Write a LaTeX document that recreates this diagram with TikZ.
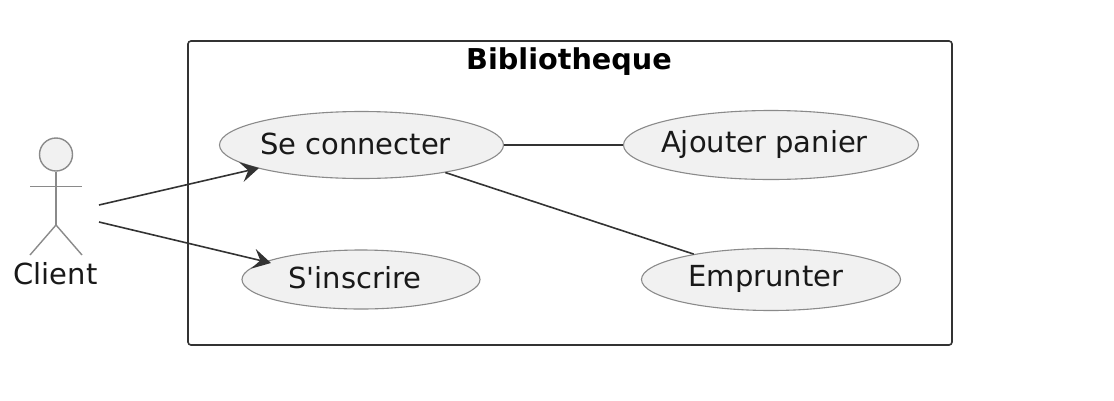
\documentclass[tikz,border=0pt]{standalone}
\usepackage{fontspec}
\setmainfont{DejaVu Sans}
\usetikzlibrary{shapes.geometric,arrows.meta}
\definecolor{ucfill}{HTML}{F1F1F1}
\definecolor{ucline}{HTML}{8A8A8A}
\definecolor{linkline}{HTML}{333333}
\tikzset{
	usecase/.style={ellipse, draw=ucline, fill=ucfill, line width=1.1pt, inner sep=0pt},
	uctext/.style={inner sep=0pt, text=black!90, font=\fontsize{29bp}{33bp}\selectfont},
	actorline/.style={draw=ucline, line width=1.4pt},
	link/.style={draw=linkline, line width=1.6pt},
	linkhead/.style={link, -{Stealth[length=18bp,width=20bp,inset=7bp]}},
}
\begin{document}
\begin{tikzpicture}[x=1bp,y=-1bp]
	\useasboundingbox (0,0) rectangle (1114,400);
	\fill[white] (0,0) rectangle (1114,400);
	% system box
	\node[draw=linkline, line width=1.6pt, rounded corners=3bp, minimum width=764bp, minimum height=304bp, inner sep=0pt] (bib) at (570,193) {};
	\node[font=\bfseries\fontsize{28.7bp}{33bp}\selectfont, text=black] (titre) at (569,62) {Bibliotheque};
	% use cases
	\node[usecase, minimum width=284bp, minimum height=67bp] (connect) at (361.5,145) {};
	\node[usecase, minimum width=238bp, minimum height=59bp] (inscrire) at (361,279.5) {};
	\node[usecase, minimum width=295bp, minimum height=69bp] (panier) at (771,145) {};
	\node[usecase, minimum width=259bp, minimum height=62bp] (emprunter) at (771,279.5) {};
	\node[uctext] (connecttxt) at (355.5,144) {Se connecter};
	\node[uctext] (inscriretxt) at (355,278) {S\textquotesingle inscrire};
	\node[uctext] (paniertxt) at (764.5,144) {Ajouter panier};
	\node[uctext] (emprtxt) at (766,279) {Emprunter};
	% actor
	\node[circle, draw=ucline, fill=ucfill, line width=1.4pt, minimum size=33bp, inner sep=0pt] (tete) at (56,154.5) {};
	\coordinate (bassin) at (56,225);
	\coordinate (brasg) at (30,186.5);
	\coordinate (brasd) at (82,186.5);
	\coordinate (piedg) at (30,255);
	\coordinate (piedd) at (82,255);
	\draw[actorline] (tete.south) -- (bassin);
	\draw[actorline] (brasg) -- (brasd);
	\draw[actorline] (piedg) -- (bassin) -- (piedd);
	\node[uctext] (client) at (55.5,274) {Client};
	\coordinate (c1) at (99,205);
	\coordinate (c2) at (99,222);
	\coordinate (c1fin) at (259,168);
	\coordinate (c2fin) at (271,263);
	% links
	\draw[linkhead] (c1) -- (c1fin);
	\draw[linkhead] (c2) -- (c2fin);
	\draw[link] (connect) -- (panier);
	\draw[link] (connect) -- (emprunter);
\end{tikzpicture}
\end{document}
